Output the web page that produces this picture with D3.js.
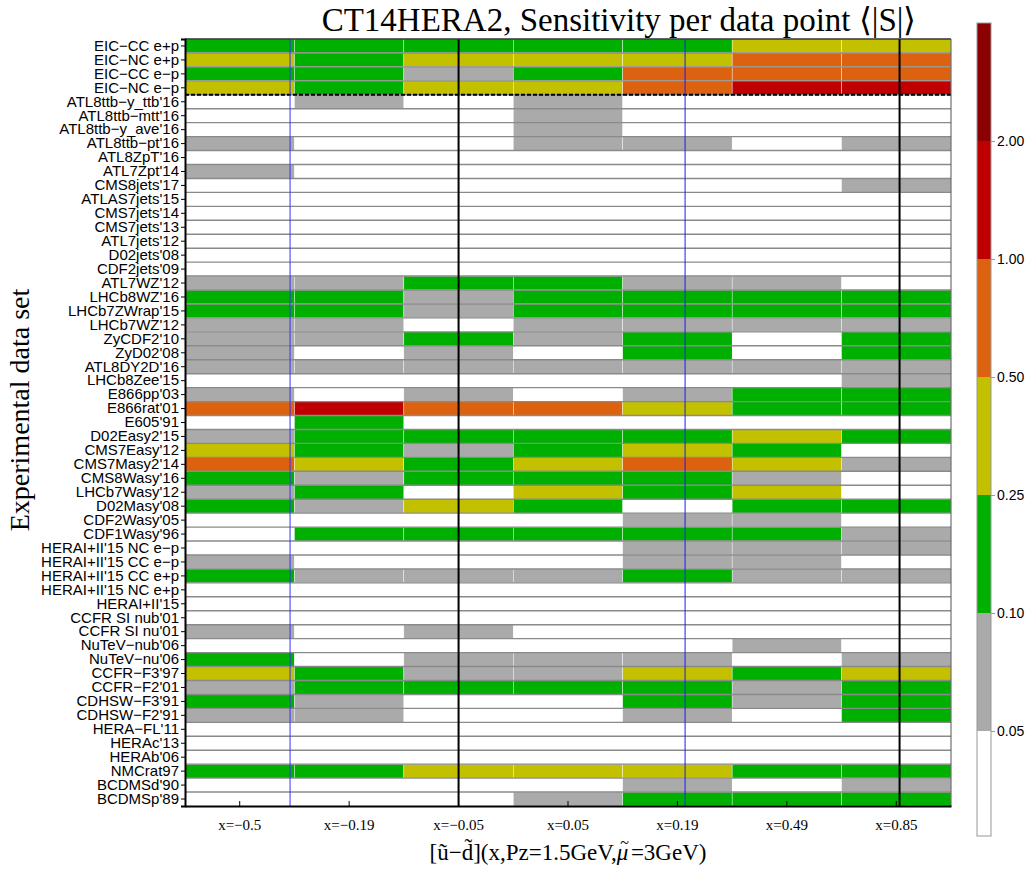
<!DOCTYPE html>
<html>
<head>
<meta charset="utf-8">
<script src="https://cdn.jsdelivr.net/npm/d3@7"></script>
<style>
  body { margin: 0; background: #fff; }
  svg { display: block; }
</style>
</head>
<body>
<svg width="1028" height="869"></svg>
<script>
// data set names, top to bottom
const datasets = ["EIC−CC e+p", "EIC−NC e+p", "EIC−CC e−p", "EIC−NC e−p",
    "ATL8ttb−y_ttb'16", "ATL8ttb−mtt'16", "ATL8ttb−y_ave'16", "ATL8ttb−pt'16",
    "ATL8ZpT'16", "ATL7Zpt'14", "CMS8jets'17", "ATLAS7jets'15", "CMS7jets'14",
    "CMS7jets'13", "ATL7jets'12", "D02jets'08", "CDF2jets'09", "ATL7WZ'12",
    "LHCb8WZ'16", "LHCb7ZWrap'15", "LHCb7WZ'12", "ZyCDF2'10", "ZyD02'08",
    "ATL8DY2D'16", "LHCb8Zee'15", "E866pp'03", "E866rat'01", "E605'91",
    "D02Easy2'15", "CMS7Easy'12", "CMS7Masy2'14", "CMS8Wasy'16", "LHCb7Wasy'12",
    "D02Masy'08", "CDF2Wasy'05", "CDF1Wasy'96", "HERAI+II'15 NC e−p",
    "HERAI+II'15 CC e−p", "HERAI+II'15 CC e+p", "HERAI+II'15 NC e+p", "HERAI+II'15",
    "CCFR SI nub'01", "CCFR SI nu'01", "NuTeV−nub'06", "NuTeV−nu'06", "CCFR−F3'97",
    "CCFR−F2'01", "CDHSW−F3'91", "CDHSW−F2'91", "HERA−FL'11", "HERAc'13",
    "HERAb'06", "NMCrat97", "BCDMSd'90", "BCDMSp'89"];

// x points of the distribution
const xPoints = ["x=−0.5", "x=−0.19", "x=−0.05", "x=0.05", "x=0.19", "x=0.49", "x=0.85"];

// colour bins of <|S|>
const thresholds = [0.05, 0.10, 0.25, 0.50, 1.00, 2.00];
const thresholdLabels = ["0.05", "0.10", "0.25", "0.50", "1.00", "2.00"];
const binColors = ["#ffffff", "#aaaaaa", "#00b000", "#c3c000", "#dc6210", "#c00000", "#8b0000"];

// sensitivity per data point, one row per data set (estimated, bin level only)
const sensitivity = [
    [0.17, 0.17, 0.17, 0.17, 0.17, 0.35, 0.35],
    [0.35, 0.17, 0.35, 0.35, 0.35, 0.70, 0.70],
    [0.17, 0.17, 0.07, 0.17, 0.70, 0.70, 0.70],
    [0.35, 0.17, 0.35, 0.35, 0.70, 1.40, 1.40],
    [0.03, 0.07, 0.03, 0.07, 0.03, 0.03, 0.03],
    [0.03, 0.03, 0.03, 0.07, 0.03, 0.03, 0.03],
    [0.03, 0.03, 0.03, 0.07, 0.03, 0.03, 0.03],
    [0.07, 0.03, 0.03, 0.07, 0.07, 0.03, 0.07],
    [0.03, 0.03, 0.03, 0.03, 0.03, 0.03, 0.03],
    [0.07, 0.03, 0.03, 0.03, 0.03, 0.03, 0.03],
    [0.03, 0.03, 0.03, 0.03, 0.03, 0.03, 0.07],
    [0.03, 0.03, 0.03, 0.03, 0.03, 0.03, 0.03],
    [0.03, 0.03, 0.03, 0.03, 0.03, 0.03, 0.03],
    [0.03, 0.03, 0.03, 0.03, 0.03, 0.03, 0.03],
    [0.03, 0.03, 0.03, 0.03, 0.03, 0.03, 0.03],
    [0.03, 0.03, 0.03, 0.03, 0.03, 0.03, 0.03],
    [0.03, 0.03, 0.03, 0.03, 0.03, 0.03, 0.03],
    [0.07, 0.07, 0.17, 0.17, 0.07, 0.07, 0.03],
    [0.17, 0.17, 0.07, 0.17, 0.17, 0.17, 0.17],
    [0.17, 0.17, 0.07, 0.17, 0.17, 0.17, 0.17],
    [0.07, 0.07, 0.03, 0.07, 0.07, 0.07, 0.07],
    [0.07, 0.07, 0.17, 0.07, 0.17, 0.03, 0.17],
    [0.07, 0.03, 0.07, 0.03, 0.17, 0.03, 0.17],
    [0.07, 0.07, 0.07, 0.07, 0.07, 0.07, 0.07],
    [0.03, 0.03, 0.03, 0.03, 0.03, 0.03, 0.07],
    [0.07, 0.03, 0.07, 0.03, 0.07, 0.17, 0.17],
    [0.70, 1.40, 0.70, 0.70, 0.35, 0.17, 0.17],
    [0.03, 0.17, 0.03, 0.03, 0.03, 0.03, 0.03],
    [0.07, 0.17, 0.17, 0.17, 0.17, 0.35, 0.17],
    [0.35, 0.17, 0.07, 0.17, 0.35, 0.17, 0.03],
    [0.70, 0.35, 0.17, 0.35, 0.70, 0.35, 0.07],
    [0.17, 0.07, 0.17, 0.17, 0.17, 0.07, 0.03],
    [0.07, 0.17, 0.03, 0.35, 0.17, 0.35, 0.03],
    [0.17, 0.07, 0.35, 0.17, 0.03, 0.17, 0.17],
    [0.03, 0.03, 0.03, 0.03, 0.07, 0.07, 0.03],
    [0.03, 0.17, 0.17, 0.17, 0.17, 0.17, 0.07],
    [0.03, 0.03, 0.03, 0.03, 0.07, 0.07, 0.07],
    [0.07, 0.03, 0.03, 0.03, 0.07, 0.07, 0.03],
    [0.17, 0.07, 0.07, 0.07, 0.17, 0.07, 0.07],
    [0.03, 0.03, 0.03, 0.03, 0.03, 0.03, 0.03],
    [0.03, 0.03, 0.03, 0.03, 0.03, 0.03, 0.03],
    [0.03, 0.03, 0.03, 0.03, 0.03, 0.03, 0.03],
    [0.07, 0.03, 0.07, 0.03, 0.03, 0.03, 0.03],
    [0.03, 0.03, 0.03, 0.03, 0.03, 0.07, 0.03],
    [0.17, 0.03, 0.07, 0.07, 0.07, 0.03, 0.07],
    [0.35, 0.17, 0.07, 0.07, 0.35, 0.17, 0.35],
    [0.07, 0.17, 0.17, 0.17, 0.17, 0.07, 0.17],
    [0.17, 0.07, 0.03, 0.03, 0.17, 0.07, 0.17],
    [0.07, 0.07, 0.03, 0.03, 0.07, 0.03, 0.17],
    [0.03, 0.03, 0.03, 0.03, 0.03, 0.03, 0.03],
    [0.03, 0.03, 0.03, 0.03, 0.03, 0.03, 0.03],
    [0.03, 0.03, 0.03, 0.03, 0.03, 0.03, 0.03],
    [0.17, 0.17, 0.35, 0.35, 0.35, 0.17, 0.17],
    [0.03, 0.03, 0.03, 0.03, 0.07, 0.03, 0.07],
    [0.03, 0.03, 0.03, 0.07, 0.17, 0.17, 0.17]
];

// vertical marker lines, in column units (0 = left edge, 7 = right edge)
const markerPos = [0.96, 2.5, 4.57, 6.53];
const markerColor = ["#3333ff", "#000000", "#1a1aff", "#000000"];

// number of EIC pseudo-data rows above the dashed separator
const eicRows = 4;

var svg = d3.select("svg");

var plotLeft = 185, plotRight = 951, plotTop = 39, plotBottom = 806;

var xScale = d3.scaleBand()
    .domain(xPoints)
    .range([plotLeft, plotRight]);

var colScale = d3.scaleLinear()
    .domain([0, xPoints.length])
    .range([plotLeft, plotRight]);

var yScale = d3.scaleBand()
    .domain(datasets)
    .range([plotTop, plotBottom]);

var colorScale = d3.scaleThreshold()
    .domain(thresholds)
    .range(binColors);

// flatten to cells
var cells = [];
sensitivity.forEach((row, i) => {
    row.forEach((v, j) => {
        cells.push({ set: datasets[i], x: xPoints[j], value: v });
    });
});

svg.append("g")
    .selectAll("rect")
    .data(cells)
    .enter()
    .append("rect")
    .attr("x", d => xScale(d.x))
    .attr("y", d => yScale(d.set))
    .attr("width", xScale.bandwidth())
    .attr("height", yScale.bandwidth())
    .style("fill", d => colorScale(d.value))
    .style("stroke", d => colorScale(d.value) == "#ffffff" ? "none" : "#ffffff")
    .style("stroke-width", 0.4);

// row separators
svg.append("g")
    .selectAll("line")
    .data(datasets.slice(1))
    .enter()
    .append("line")
    .attr("x1", plotLeft)
    .attr("x2", plotRight)
    .attr("y1", d => yScale(d))
    .attr("y2", d => yScale(d))
    .style("stroke", "#8a8a8a")
    .style("stroke-width", 1.4);

// dashed line under the EIC rows
svg.append("line")
    .attr("x1", plotLeft)
    .attr("x2", plotRight)
    .attr("y1", yScale(datasets[eicRows]))
    .attr("y2", yScale(datasets[eicRows]))
    .style("stroke", "#000")
    .style("stroke-width", 2)
    .style("stroke-dasharray", "4,2");

// marker lines
svg.append("g")
    .selectAll("line")
    .data(markerPos)
    .enter()
    .append("line")
    .attr("x1", d => colScale(d))
    .attr("x2", d => colScale(d))
    .attr("y1", plotTop)
    .attr("y2", plotBottom)
    .style("stroke", (d, i) => markerColor[i])
    .style("stroke-width", (d, i) => markerColor[i] == "#000000" ? 2 : 1);

// frame top / right
svg.append("line")
    .attr("x1", plotLeft).attr("x2", plotRight)
    .attr("y1", plotTop).attr("y2", plotTop)
    .style("stroke", "#333").style("stroke-width", 1.5);
svg.append("line")
    .attr("x1", plotRight).attr("x2", plotRight)
    .attr("y1", plotTop).attr("y2", plotBottom)
    .style("stroke", "#555").style("stroke-width", 1);

// axes
var yAxis = d3.axisLeft(yScale).tickSize(4).tickPadding(2);
var gy = svg.append("g")
    .attr("transform", `translate(${plotLeft}, 0)`)
    .call(yAxis);
gy.select(".domain").style("stroke-width", 2);
gy.selectAll("text")
    .style("font-family", "'Liberation Sans', Arial, sans-serif")
    .style("font-size", "15px")
    .attr("fill", "#000");

var xAxis = d3.axisBottom(xScale).tickSizeInner(-5).tickSizeOuter(0).tickPadding(13);
var gx = svg.append("g")
    .attr("transform", `translate(0, ${plotBottom})`)
    .call(xAxis);
gx.select(".domain").style("stroke-width", 2);
gx.selectAll("text")
    .style("font-family", "'Liberation Serif', 'Times New Roman', serif")
    .style("font-size", "15px")
    .attr("fill", "#000");

// titles
svg.append("text")
    .attr("x", 619)
    .attr("y", 31)
    .attr("text-anchor", "middle")
    .style("font-family", "'Liberation Serif', 'Times New Roman', serif")
    .style("font-size", "33px")
    .text("CT14HERA2, Sensitivity per data point ⟨|S|⟩");

// x axis label, tilde over mu placed by hand
var xLabel = svg.append("text")
    .attr("x", 568)
    .attr("y", 860)
    .attr("text-anchor", "middle")
    .style("font-family", "'Liberation Serif', 'Times New Roman', serif")
    .style("font-size", "23px");
xLabel.append("tspan").text("[ũ−d̃](x,Pz=1.5GeV,");
xLabel.append("tspan").style("font-style", "italic").text("μ");
xLabel.append("tspan").attr("dx", -8).attr("dy", -12).style("font-size", "16px").text("~");
xLabel.append("tspan").attr("dx", 2).attr("dy", 12).text("=3GeV)");

svg.append("text")
    .attr("transform", "translate(29, 410)rotate(-90)")
    .attr("text-anchor", "middle")
    .style("font-family", "'Liberation Serif', 'Times New Roman', serif")
    .style("font-size", "28px")
    .text("Experimental data set");

// colour bar
var barX = 977, barW = 14, barTop = 23, barBottom = 836;
var barScale = d3.scaleLinear()
    .domain([1, thresholds.length])
    .range([731, 141]);

var barBands = binColors.map((c, i) => ({
    color: c,
    y0: i == 0 ? barBottom : barScale(i),
    y1: i == binColors.length - 1 ? barTop : barScale(i + 1)
}));

svg.append("g")
    .selectAll("rect")
    .data(barBands)
    .enter()
    .append("rect")
    .attr("x", barX)
    .attr("y", d => d.y1)
    .attr("width", barW)
    .attr("height", d => d.y0 - d.y1)
    .style("fill", d => d.color);

svg.append("rect")
    .attr("x", barX)
    .attr("y", barTop)
    .attr("width", barW)
    .attr("height", barBottom - barTop)
    .style("fill", "none")
    .style("stroke", "#999")
    .style("stroke-width", 1);

var barAxis = d3.axisRight(barScale)
    .tickValues(d3.range(1, thresholds.length + 1))
    .tickFormat((d, i) => thresholdLabels[i])
    .tickSize(4)
    .tickPadding(2);

var gb = svg.append("g")
    .attr("transform", `translate(${barX + barW}, 0)`)
    .call(barAxis);
gb.select(".domain").remove();
gb.selectAll("line").style("stroke", "#999");
gb.selectAll("text")
    .style("font-family", "'Liberation Sans', Arial, sans-serif")
    .style("font-size", "14px")
    .attr("fill", "#000");
</script>
</body>
</html>
